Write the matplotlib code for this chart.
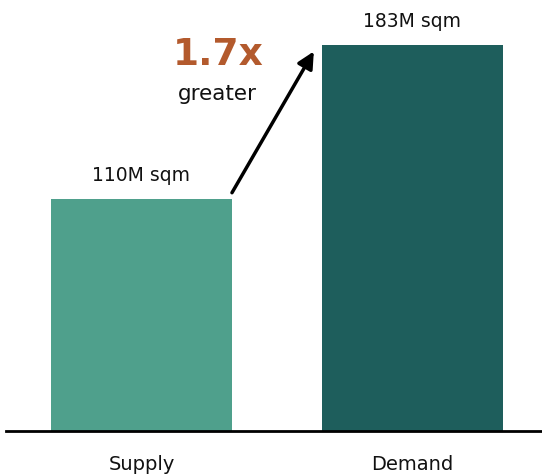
import matplotlib
matplotlib.use("Agg")
import matplotlib.pyplot as plt

categories = ["Supply", "Demand"]
values = [110, 183]
value_labels = ["110M sqm", "183M sqm"]
multiplier_label = "1.7x"
multiplier_sub = "greater"
colors = ["#4fa08c", "#1e5e5c"]

W, H, DPI = 542, 476, 100
fig = plt.figure(figsize=(W / DPI, H / DPI), dpi=DPI)
base_px = 45
ax = fig.add_axes([0, base_px / H, 1, 1 - base_px / H])

plt.rcParams['font.family'] = ['DejaVu Sans']

x = [0, 1]
width = 0.668
ax.bar(x, values, width=width, color=colors, zorder=2)

ax.set_xlim(-0.522, 1.478)
ax.set_ylim(0, 204.4)

ax.axhline(0, xmin=6 / W, xmax=1, color="black", lw=2, zorder=3, clip_on=False)

for xi, v, lab in zip(x, values, value_labels):
    ax.annotate(lab, (xi, v), xytext=(0, 13), textcoords="offset points",
                ha="center", va="baseline", fontsize=13.5, color="#111111")

# arrow from supply to demand
ax.annotate("", xy=(1 - width / 2 - 0.03, values[1] - 3),
            xytext=(width / 2, values[0] + 3),
            arrowprops=dict(arrowstyle="-|>,head_length=1.0,head_width=0.5",
                            color="black", lw=2.5, shrinkA=0, shrinkB=0))

ax.text(0.284, 173.5, multiplier_label, ha="center", va="baseline",
        fontsize=27, fontweight="bold", color="#b35a2d")
ax.text(0.280, 157.0, multiplier_sub, ha="center", va="baseline",
        fontsize=15.5, color="#111111")

ax.set_xticks(x)
ax.set_xticklabels(categories, fontsize=14, color="#111111")
ax.tick_params(axis="x", length=0, pad=17)
ax.set_yticks([])
for s in ax.spines.values():
    s.set_visible(False)

fig.savefig("out.png", dpi=DPI)
